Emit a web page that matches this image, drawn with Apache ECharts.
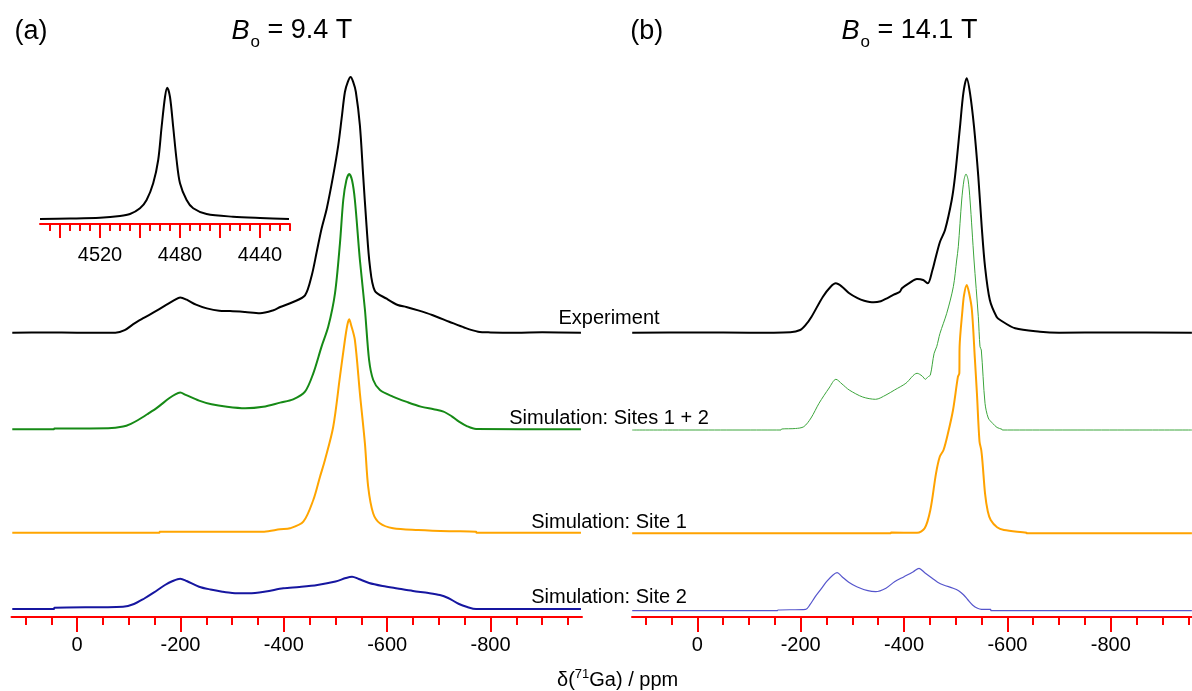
<!DOCTYPE html>
<html>
<head>
<meta charset="utf-8">
<script src="https://cdn.jsdelivr.net/npm/echarts@6/dist/echarts.min.js"></script>
<style>
html, body { margin: 0; padding: 0; background: #fff; }
#chart { width: 1192px; height: 691px; }
</style>
</head>
<body>
<div id="chart"></div>
<script>
// spectra: [ppm, intensity] pairs, intensity in arbitrary units
// panel (a), 9.4 T
var expA = [[125.5,0],[60,0.3],[0,0],[-74,0],[-92,2.5],[-111,9.3],[-130,15],[-148,20.3],[-170,27],[-188,32.5],[-199.5,35.3],[-212,33],[-230,28],[-251,24.3],[-275,22],[-296,21.7],[-325,20.7],[-354,19.5],[-380,22.5],[-393,25.7],[-418,30.7],[-441,37.3],[-454,57.3],[-463.6,80.7],[-473,104],[-483,124],[-495.6,157.3],[-505.3,187.3],[-511.8,214],[-518.2,240.7],[-524,251],[-529.2,255.7],[-534,251],[-539.4,240.7],[-547.2,207.3],[-553.5,157.3],[-560,107.3],[-566.4,67.3],[-576,42],[-599,34],[-620.5,27.7],[-637,25.7],[-660,22.3],[-687,17.7],[-720,11],[-750,5],[-776,1],[-800,0.3],[-850,0],[-900,0.4],[-975,0]];
var sitesA = [[125.5,0],[45,0],[44,0.7],[-60,1],[-89,2.7],[-104,5.5],[-118,9.3],[-137,15.5],[-155,21.7],[-178,31],[-190,35],[-199.5,36.7],[-210,34.5],[-236,28.7],[-260,25],[-290,22.5],[-325,21],[-360,22.5],[-393,26.7],[-418,30],[-441,37.7],[-457,56],[-473,82.7],[-486,102.7],[-499,136],[-508.6,186],[-515,229.3],[-521,249],[-526.5,255.3],[-532,249],[-537.5,229.3],[-547.2,169.3],[-557,119.3],[-565,69.3],[-573,49.3],[-586,39.3],[-611,32.7],[-640,27],[-665,22.7],[-690,20],[-709,17.7],[-725,13],[-739,7.7],[-755,3],[-772,0.3],[-975,0]];
var site1A = [[125.5,0],[-159,0],[-160,1],[-362,1],[-392.8,3.4],[-412,4.4],[-437.7,11],[-457,32.7],[-470,56],[-479.6,72.7],[-495.6,106],[-508.6,156],[-518.2,192.7],[-523,208],[-526.5,213.4],[-530,208],[-537.5,192.7],[-547.2,139.4],[-556.9,89.4],[-563.2,46],[-572.8,19.4],[-585.8,9.4],[-611.4,4.4],[-660,2.7],[-720,1.5],[-772,1],[-773,0],[-975,0]];
var site2A = [[125.5,0],[45,0],[44,1.3],[-88.8,2.3],[-110,5],[-130,10.5],[-148,16.3],[-170,24],[-185,28],[-199.5,30.3],[-212,28],[-236,22.3],[-258,19.5],[-281,17.3],[-300,16],[-332.5,15.7],[-365,17.5],[-399,20.7],[-430,22],[-465,24],[-500,27.5],[-520,31],[-532,32.3],[-545,30],[-565,26],[-591,23],[-620,20.5],[-650,18],[-680,16],[-702,14],[-718,11],[-739,5],[-755,2],[-772,0],[-975,0]];

// panel (b), 14.1 T
var expB = [[126,0],[0,0.3],[-100,0],[-180,0.5],[-199,2.7],[-210,8],[-221,16],[-243,36],[-258,46],[-268,49.4],[-280,46],[-294,39.4],[-310,34.5],[-323,32],[-341,30.4],[-355,31.5],[-367,34.4],[-380,38],[-392,41],[-396,44.4],[-410,49.5],[-425,53.7],[-437,52.7],[-446,49.4],[-455,62.7],[-460,72.7],[-469.6,91],[-479.3,102.7],[-492.3,132.7],[-498.6,156],[-508.3,206],[-514.7,239.4],[-521.3,254.4],[-527.7,239.4],[-535.4,206],[-543.7,156],[-550.3,106],[-556.7,66],[-566,32.7],[-579,16],[-586,12.7],[-615,4.4],[-663,1],[-700,0],[-800,0.3],[-957,0]];
var sitesB = [[126,0],[-162,0],[-163,1],[-190,1.5],[-206,3.3],[-220,12],[-235.5,26.7],[-255,42],[-268.2,50.7],[-280,46],[-293.9,40],[-320,33],[-345,30.7],[-365,35],[-381.6,40],[-403.5,46.7],[-425.3,56.7],[-435,54],[-441.4,50.7],[-446,53],[-450.9,55],[-458.2,76.7],[-463.2,83.3],[-469.6,96.7],[-482.6,116.7],[-495.4,143.3],[-501.9,170],[-505,183.3],[-511.6,230],[-516,250],[-519.9,256],[-524,250],[-527.7,230],[-535.4,170],[-543.7,113.3],[-547,83.3],[-549.5,80],[-556.7,26.7],[-563,12],[-571.4,6.7],[-580,2.5],[-589.6,0.7],[-590,0],[-957,0]];
var site1B = [[126,0],[-374,0],[-375,0.7],[-425.3,0.6],[-439.9,5],[-450.9,23.3],[-461.9,60],[-469.1,76.6],[-476.4,83.3],[-485,100],[-494.8,123.3],[-504.3,156.6],[-507,160],[-507.5,186.6],[-513,223],[-516,238],[-521.3,248.3],[-526,240],[-531.3,223.3],[-537,175],[-541,140],[-546,92],[-549.5,83],[-552,70],[-556.7,40],[-562,22],[-567.7,13.3],[-580,6],[-593.3,3.3],[-637,0.6],[-638,0],[-957,0]];
var site2B = [[126,0],[-155,0],[-156,0.7],[-209.8,1.4],[-218,6],[-228.2,14],[-240,22],[-250,29],[-262,35.5],[-270.5,38],[-280,34],[-293,28.5],[-308.5,24],[-330,20],[-345,19],[-365,22.5],[-381.6,29],[-400,34],[-418,39],[-429,42.4],[-440,38],[-454.5,32.4],[-465,28.5],[-476.4,25.7],[-495,22.5],[-505.6,20],[-515,16],[-523.8,10.7],[-533,5.5],[-542.2,2.4],[-550,1.4],[-567.7,1.4],[-568,0],[-957,0]];

// inset of panel (a)
var insetA = [[4550,0],[4535,0.5],[4520,1.3],[4510,3],[4505,5],[4500,10.7],[4496.7,19],[4493.4,35.7],[4490.9,59],[4489.2,92],[4487.5,122],[4486.4,131.3],[4485,122],[4483.4,92],[4481.7,59],[4480,35.7],[4476.7,19],[4473.4,10.7],[4466.7,5],[4453.5,2.3],[4440,1],[4425.5,0]];

// tick values
var minorTicks = [100,50,0,-50,-100,-150,-200,-250,-300,-350,-400,-450,-500,-550,-600,-650,-700,-750,-800,-850,-900,-950];
var majorTicks = [0,-200,-400,-600,-800];
var insetMinor = [4545,4540,4535,4530,4525,4520,4515,4510,4505,4500,4495,4490,4485,4480,4475,4470,4465,4460,4455,4450,4445,4440,4435,4430,4425];
var insetMajor = [4540,4520,4500,4480,4460,4440];
var insetLabels = [4520,4480,4440];

var traceNames = ['Experiment', 'Simulation: Sites 1 + 2', 'Simulation: Site 1', 'Simulation: Site 2'];

var FONT = '"Liberation Sans", Arial, Helvetica, sans-serif';
var RED = '#ff0000';

var chart = echarts.init(document.getElementById('chart'));

var grids = [], xAxes = [], yAxes = [], series = [];

function addTrace(data, range, left, width, baseline, span, color, lw) {
    var idx = grids.length;
    grids.push({left: left, width: width, top: baseline - span, height: span});
    xAxes.push({type: 'value', gridIndex: idx, min: range[0], max: range[1], inverse: true, show: false});
    yAxes.push({type: 'value', gridIndex: idx, min: 0, max: span, show: false});
    series.push({
        type: 'line', xAxisIndex: idx, yAxisIndex: idx, data: data,
        showSymbol: false, smooth: 0.3, clip: false, silent: true,
        lineStyle: {color: color, width: lw, join: 'round'}
    });
}

function addAxis(range, left, width, axisY, minorVals, majorVals, labelVals, minorLen, majorLen, margin) {
    var idx = grids.length;
    grids.push({left: left, width: width, top: axisY - 20, height: 20});
    yAxes.push({type: 'value', gridIndex: idx, min: 0, max: 1, show: false});
    xAxes.push({
        type: 'value', gridIndex: idx, min: range[0], max: range[1], inverse: true, position: 'bottom',
        axisLine: {show: true, onZero: false, lineStyle: {color: RED, width: 2}},
        axisTick: {show: true, length: minorLen, customValues: minorVals, lineStyle: {color: RED, width: 2}},
        axisLabel: {show: false}, splitLine: {show: false}
    });
    xAxes.push({
        type: 'value', gridIndex: idx, min: range[0], max: range[1], inverse: true, position: 'bottom',
        axisLine: {show: false, onZero: false},
        axisTick: {show: true, length: majorLen, customValues: majorVals, lineStyle: {color: RED, width: 2}},
        axisLabel: {
            show: true, customValues: labelVals, margin: margin, fontSize: 20, color: '#000', fontFamily: FONT,
            formatter: function (v) { return String(v); }
        },
        splitLine: {show: false}
    });
}

var rangeA = [-977, 127], rangeB = [-957.2, 126.4], rangeIn = [4425, 4550];

addTrace(expA, rangeA, 11.5, 570.5, 332.7, 300, '#000000', 2);
addTrace(sitesA, rangeA, 11.5, 570.5, 429.3, 300, '#168a16', 2);
addTrace(site1A, rangeA, 11.5, 570.5, 532.7, 300, '#ffa500', 2);
addTrace(site2A, rangeA, 11.5, 570.5, 609, 300, '#1616a0', 2);
addTrace(insetA, rangeIn, 40, 250, 219, 150, '#000000', 2);

addTrace(expB, rangeB, 632, 560, 332.7, 300, '#000000', 2);
addTrace(sitesB, rangeB, 632, 560, 430, 300, '#3ca53c', 1);
addTrace(site1B, rangeB, 632, 560, 533.3, 300, '#ffa200', 2);
addTrace(site2B, rangeB, 632, 560, 610.7, 300, '#5555cc', 1.2);

addAxis(rangeA, 11.5, 570.5, 617, minorTicks, majorTicks, majorTicks, 8, 15, 18);
addAxis(rangeB, 632, 560, 617, minorTicks, majorTicks, majorTicks, 8, 15, 18);
addAxis(rangeIn, 40, 250, 224, insetMinor, insetMajor, insetLabels, 7, 14, 21);

// text helpers
var ctx = document.createElement('canvas').getContext('2d');
function tw(text, size, style) {
    ctx.font = (style || '') + ' ' + size + 'px ' + FONT;
    return ctx.measureText(text).width;
}
function txt(s, x, y, size, opts) {
    opts = opts || {};
    return {
        type: 'text', x: x, y: y, silent: true,
        style: {
            text: s, fill: '#000', fontSize: size, fontFamily: FONT,
            fontStyle: opts.italic ? 'italic' : 'normal',
            align: opts.align || 'left', verticalAlign: 'middle'
        }
    };
}

var graphics = [];
function fieldTitle(x, y, value) {
    var bw = tw('B', 27, 'italic');
    graphics.push(txt('B', x, y, 27, {italic: true}));
    graphics.push(txt('o', x + bw + 1, y + 11, 17));
    graphics.push(txt(' = ' + value, x + bw + 1 + tw('o', 17), y, 27));
}
graphics.push(txt('(a)', 14.5, 31.7, 27));
fieldTitle(231.5, 31, '9.4 T');
graphics.push(txt('(b)', 630.2, 31.7, 27));
fieldTitle(841.6, 31, '14.1 T');

var labelY = [318, 418, 522.5, 597];
traceNames.forEach(function (n, i) {
    graphics.push(txt(n, 609, labelY[i], 20, {align: 'center'}));
});

// axis title: δ(71Ga) / ppm
var ax = 557, ay = 680;
graphics.push(txt('\u03b4(', ax, ay, 20));
ax += tw('\u03b4(', 20);
graphics.push(txt('71', ax, ay - 6, 13));
ax += tw('71', 13);
graphics.push(txt('Ga) / ppm', ax, ay, 20));

chart.setOption({
    animation: false,
    grid: grids,
    xAxis: xAxes,
    yAxis: yAxes,
    series: series,
    graphic: graphics
});
</script>
</body>
</html>
